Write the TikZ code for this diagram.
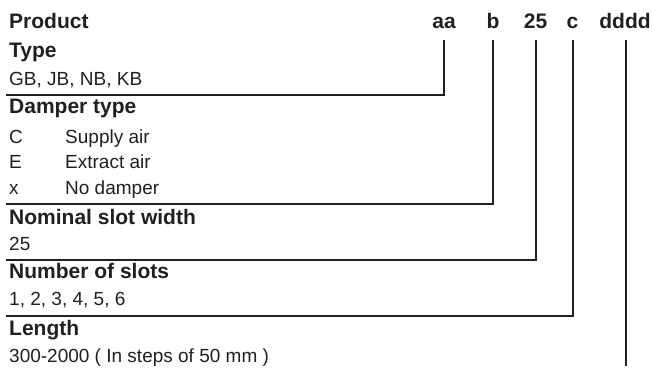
\documentclass[tikz,border=0pt]{standalone}
\usepackage{fontspec}
\setmainfont{Liberation Sans}
\definecolor{ink}{HTML}{231F20}
\begin{document}
\begin{tikzpicture}[x=1pt,y=-1pt,
  head/.style={anchor=base west, inner sep=0pt, font=\fontsize{21}{25}\selectfont\bfseries, text=ink},
  val/.style={anchor=base west, inner sep=0pt, font=\fontsize{19}{23}\selectfont, text=ink},
  code/.style={anchor=base, inner sep=0pt, text depth=0pt, font=\fontsize{21}{25}\selectfont\bfseries, text=ink},
  conn/.style={draw=ink, line width=2pt, line join=miter, shorten <=12pt}]
\useasboundingbox (0,0) rectangle (652,367);
% header row
\node[head] (product) at (9,28) {Product};
\node[code] (caa) at (444,28) {aa};
\node[code] (cb) at (493,28) {b};
\node[code] (c25) at (535.5,28) {25};
\node[code] (cc) at (572.5,28) {c};
\node[code] (cd) at (625,28) {dddd};
% sections
\node[head] (type) at (9,57) {Type};
\node[val] (typev) at (9,85) {GB, JB, NB, KB};
\node[head] (damper) at (9,113) {Damper type};
\node[val] (dC) at (9,143) {C};
\node[val] (dCt) at (65,143) {Supply air};
\node[val] (dE) at (9,168) {E};
\node[val] (dEt) at (65,168) {Extract air};
\node[val] (dx) at (9,194) {x};
\node[val] (dxt) at (65,194) {No damper};
\node[head] (slot) at (9,224) {Nominal slot width};
\node[val] (slotv) at (9,250) {25};
\node[head] (num) at (9,278) {Number of slots};
\node[val] (numv) at (9,305) {1, 2, 3, 4, 5, 6};
\node[head] (len) at (9,335) {Length};
\node[val] (lenv) at (9,362) {300-2000 ( In steps of 50 mm )};
% connector end points
\coordinate (eaa) at (6,95);
\coordinate (eb) at (6,204);
\coordinate (e25) at (6,259.5);
\coordinate (ec) at (6,315.5);
\coordinate (ed) at (626,366);
% connectors
\draw[conn] (caa.south) |- (eaa);
\draw[conn] (cb.south) |- (eb);
\draw[conn] (c25.south) |- (e25);
\draw[conn] (cc.south) |- (ec);
\draw[conn] (cd.south -| ed) -- (ed);
\end{tikzpicture}
\end{document}
